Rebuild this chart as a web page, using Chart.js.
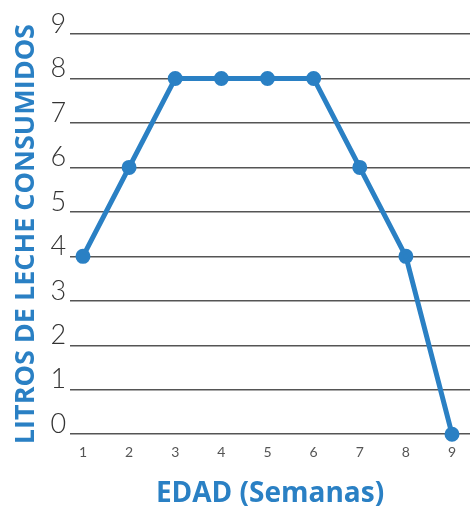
<!DOCTYPE html>
<html>
<head>
<meta charset="utf-8">
<script src="https://cdn.jsdelivr.net/npm/chart.js@4/dist/chart.umd.min.js"></script>
<style>
  html, body { margin: 0; padding: 0; background: #fff; }
  #wrap { width: 470px; height: 508px; position: relative; }
</style>
</head>
<body>
<div id="wrap"><canvas id="milkChart"></canvas></div>
<script>
// Data
const weeks = [1, 2, 3, 4, 5, 6, 7, 8, 9];
const litres = [4, 6, 8, 8, 8, 8, 6, 4, 0];
const yTicks = [0, 1, 2, 3, 4, 5, 6, 7, 8, 9];

const blue = '#2a80c4';

const ctx = document.getElementById('milkChart').getContext('2d');

new Chart(ctx, {
    type: 'line',
    data: {
        datasets: [{
            data: weeks.map((w, i) => ({ x: w, y: litres[i] })),
            borderColor: blue,
            backgroundColor: blue,
            borderWidth: 5,
            pointRadius: 5,
            pointHoverRadius: 5,
            tension: 0,
            clip: false
        }]
    },
    options: {
        responsive: true,
        maintainAspectRatio: false,
        animation: false,
        layout: { autoPadding: false, padding: { top: 34, right: 0, left: 10, bottom: 0 } },
        plugins: {
            legend: { display: false },
            tooltip: { enabled: false }
        },
        scales: {
            x: {
                type: 'linear',
                min: 0.72,
                max: 9.39,
                afterBuildTicks: (scale) => { scale.ticks = weeks.map(v => ({ value: v })); },
                grid: { display: false, drawTicks: false },
                border: { display: false },
                ticks: {
                    color: '#555',
                    padding: 10,
                    font: { family: 'Lato', size: 14 }
                },
                title: {
                    display: true,
                    text: 'EDAD (Semanas)',
                    color: blue,
                    padding: { top: 9, bottom: 0 },
                    font: { family: 'Open Sans', size: 28, weight: 'bold', lineHeight: 1 }
                }
            },
            y: {
                min: 0,
                max: 9,
                afterBuildTicks: (scale) => { scale.ticks = yTicks.map(v => ({ value: v })); },
                grid: { color: '#555', lineWidth: 1.5, drawTicks: false },
                border: { display: false },
                ticks: {
                    color: '#333',
                    padding: 4,
                    labelOffset: -10,
                    font: { family: 'Lato', size: 27, weight: '300' }
                },
                title: {
                    display: true,
                    text: 'LITROS DE LECHE CONSUMIDOS',
                    color: blue,
                    padding: { top: 0, bottom: 4 },
                    font: { family: 'Open Sans', size: 27, weight: 'bold' }
                }
            }
        }
    }
});
</script>
</body>
</html>
